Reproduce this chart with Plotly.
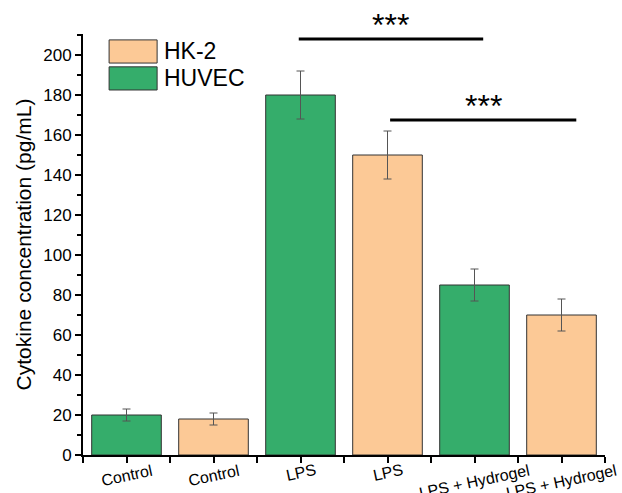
import plotly.graph_objects as go

# ---- data ----
tick_labels = ["Control", "Control", "LPS", "LPS", "LPS + Hydrogel", "LPS + Hydrogel"]
tick_positions = [0, 1, 2, 3, 4, 5]
huvec_pos = [0, 2, 4]
huvec_vals = [20, 180, 85]
huvec_err = [3, 12, 8]
hk2_pos = [1, 3, 5]
hk2_vals = [18, 150, 70]
hk2_err = [3, 12, 8]
# significance brackets: (x start, x end, y level, label)
sig_x0 = [1.98, 3.03]
sig_x1 = [4.1, 5.17]
sig_y = [208, 167.5]
sig_text = ["***", "***"]

GREEN = "#35AD6B"
ORANGE = "#FCC996"
FONT = "Arial, Liberation Sans, sans-serif"

fig = go.Figure()
fig.add_trace(go.Bar(
    x=huvec_pos, y=huvec_vals, name="HUVEC", width=0.8,
    marker=dict(color=GREEN, line=dict(color="#333333", width=1)),
    error_y=dict(type="data", array=huvec_err, color="#555555", thickness=1, width=4),
    showlegend=False,
))
fig.add_trace(go.Bar(
    x=hk2_pos, y=hk2_vals, name="HK-2", width=0.8,
    marker=dict(color=ORANGE, line=dict(color="#333333", width=1)),
    error_y=dict(type="data", array=hk2_err, color="#555555", thickness=1, width=4),
    showlegend=False,
))

# significance lines and stars
for x0, x1, y, t in zip(sig_x0, sig_x1, sig_y, sig_text):
    fig.add_shape(type="line", xref="x", yref="y", x0=x0, x1=x1, y0=y, y1=y,
                  line=dict(color="black", width=3))
    fig.add_annotation(x=(x0 + x1) / 2, y=y, xref="x", yref="y", text=t,
                       showarrow=False, yanchor="bottom", yshift=-6,
                       font=dict(family=FONT, size=32, color="black"))

# rotated category labels centred under each tick
for xp, lab in zip(tick_positions, tick_labels):
    fig.add_annotation(x=xp, y=0, xref="x", yref="paper", text=lab,
                       showarrow=False, textangle=-12, xanchor="center", yanchor="top",
                       yshift=-4, font=dict(family=FONT, size=16, color="black"))

# manual legend (large swatches)
legend_items = [("HK-2", ORANGE), ("HUVEC", GREEN)]
for i, (name, col) in enumerate(legend_items):
    top = 0.986 - i * 0.064
    fig.add_shape(type="rect", xref="paper", yref="paper",
                  x0=0.05, x1=0.142, y0=top - 0.055, y1=top,
                  fillcolor=col, line=dict(color="#333333", width=1))
    fig.add_annotation(xref="paper", yref="paper", x=0.151, y=top - 0.0275,
                       text=name, showarrow=False, xanchor="left", yanchor="middle",
                       font=dict(family=FONT, size=23, color="black"))

fig.update_layout(
    width=622, height=493,
    margin=dict(l=83, r=17, t=34, b=38),
    paper_bgcolor="white", plot_bgcolor="white",
    font=dict(family=FONT, color="black"),
    barmode="overlay",
    showlegend=False,
)
fig.update_xaxes(
    range=[-0.5, 5.5], tickmode="array", tickvals=tick_positions,
    ticktext=[""] * len(tick_positions),
    ticks="outside", ticklen=6, tickwidth=1.5,
    tickcolor="black", showline=True, linecolor="black", linewidth=2,
    showgrid=False, zeroline=False, automargin=False,
    minor=dict(tickmode="array", tickvals=[-0.5, 0.5, 1.5, 2.5, 3.5, 4.5, 5.5],
               ticks="outside", ticklen=6, tickwidth=1.5, tickcolor="black"),
)
fig.update_yaxes(
    range=[0, 210.5], tickmode="linear", tick0=0, dtick=20,
    tickfont=dict(size=17), ticks="outside", ticklen=6, tickwidth=1.5, tickcolor="black",
    showline=True, linecolor="black", linewidth=2, showgrid=False, zeroline=False,
    minor=dict(dtick=10, ticks="outside", ticklen=4, tickwidth=1.5, tickcolor="black"),
    title=dict(text="Cytokine concentration (pg/mL)", font=dict(size=21), standoff=6),
    automargin=False,
)

fig.write_html("out.html")
